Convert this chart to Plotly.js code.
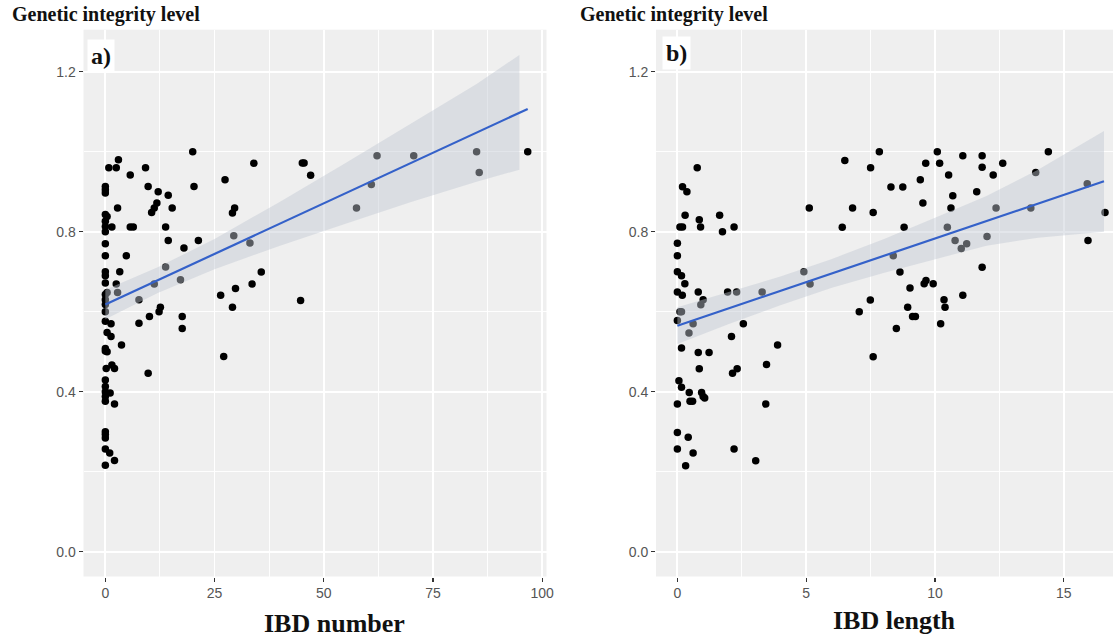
<!DOCTYPE html>
<html>
<head>
<meta charset="utf-8">
<script src="https://cdn.plot.ly/plotly-3.0.1.min.js"></script>
<style>
  html, body { margin: 0; padding: 0; background: #ffffff; }
  #chart { width: 1113px; height: 638px; }
</style>
</head>
<body>
<div id="chart"></div>
<script>
// ---------- Panel a) : IBD number vs genetic integrity ----------
const ibdNumber = [20.0,34.0,3.0,0.8,2.5,9.2,5.7,27.4,0,0,
  0,9.8,20.3,12.1,14.4,11.8,11.2,10.6,15.3,2.8,
  29.6,29.1,0,0.4,0,0,0,1.5,5.7,6.4,
  13.8,0,14.4,21.3,29.4,33.1,18.0,0,4.8,35.7,
  0,3.3,13.8,17.2,0,0,2.5,2.8,0.4,0,
  0,0,0,11.2,7.7,33.6,29.8,26.4,29.1,12.6,
  12.3,10.1,7.7,17.6,17.6,27.1,0,1.3,0.4,1.3,
  3.7,0,0,0.4,0.2,1.5,2.1,9.8,0,0,
  0,1.1,0,0,2.1,0,0,0,0,1.0,
  2.1,0,45.1,45.5,47.0,44.7,57.5,60.9,62.2,70.6,
  85.0,85.6,96.7];
const integrityA = [1.0,0.971,0.98,0.96,0.96,0.96,0.942,0.93,0.913,0.905,
  0.897,0.913,0.913,0.90,0.891,0.872,0.859,0.848,0.859,0.859,
  0.859,0.847,0.843,0.838,0.826,0.813,0.80,0.812,0.812,0.812,
  0.812,0.77,0.778,0.778,0.79,0.772,0.759,0.74,0.74,0.699,
  0.70,0.70,0.712,0.68,0.69,0.672,0.669,0.648,0.648,0.643,
  0.63,0.618,0.60,0.669,0.63,0.669,0.658,0.641,0.611,0.611,
  0.60,0.588,0.571,0.588,0.558,0.488,0.576,0.57,0.548,0.538,
  0.517,0.508,0.502,0.50,0.458,0.467,0.458,0.446,0.429,0.413,
  0.40,0.397,0.388,0.376,0.369,0.30,0.293,0.284,0.257,0.247,
  0.228,0.216,0.972,0.972,0.941,0.628,0.859,0.918,0.99,0.99,
  1.0,0.948,1.0];
// smooth (lm)
const fitXA = [0, 96.7];
const fitYA = [0.618, 1.107];
const bandXA = [0, 12, 25, 40, 55, 70, 85, 94.8];
const bandLoA = [0.581, 0.647, 0.706, 0.765, 0.820, 0.874, 0.925, 0.955];
const bandHiA = [0.655, 0.711, 0.782, 0.875, 0.972, 1.070, 1.169, 1.242];

// ---------- Panel b) : IBD length vs genetic integrity ----------
const ibdLength = [0.77,0.2,0.37,0.3,0.85,0.9,1.64,1.75,2.2,0.1,
  0.2,0,0,0,0.16,4.91,5.12,6.5,7.84,7.5,
  6.8,7.6,6.4,0.29,0,0.19,0.81,0.91,1.0,1.95,
  2.3,3.29,5.15,0.1,0.16,0,0.45,0.61,2.56,2.1,
  0.16,0.81,1.23,3.89,0.85,3.46,2.14,2.32,0.06,0.16,
  0.46,0.94,1.0,1.06,0.49,0.59,0,3.43,7.06,7.49,
  7.6,0,0.42,0,0.61,2.2,0.32,3.04,
  8.29,8.75,10.09,9.64,10.18,9.43,10.53,11.08,11.83,11.83,
  12.63,12.26,14.4,11.62,10.69,9.53,10.62,12.37,13.91,13.72,
  15.91,16.6,15.94,8.8,10.48,10.78,11.23,11.02,12.02,8.38,
  8.64,11.83,9.03,9.58,9.65,9.93,11.08,8.94,10.35,10.39,
  9.13,9.24,8.5,10.22];
const integrityB = [0.96,0.9125,0.90,0.841,0.83,0.812,0.841,0.80,0.812,0.812,
  0.812,0.771,0.74,0.70,0.69,0.70,0.859,0.978,1.0,0.96,
  0.859,0.848,0.811,0.67,0.649,0.641,0.649,0.6175,0.63,0.649,
  0.649,0.649,0.669,0.60,0.60,0.578,0.547,0.57,0.57,0.538,
  0.509,0.498,0.498,0.517,0.4575,0.468,0.446,0.4575,0.4275,0.411,
  0.398,0.398,0.388,0.384,0.376,0.376,0.369,0.369,0.60,0.629,
  0.4875,0.298,0.286,0.257,0.247,0.257,0.215,0.2275,
  0.912,0.912,1.0,0.971,0.971,0.93,0.942,0.99,0.99,0.961,
  0.971,0.942,1.0,0.90,0.89,0.872,0.859,0.859,0.948,0.859,
  0.92,0.848,0.778,0.811,0.811,0.778,0.77,0.758,0.788,0.74,
  0.699,0.711,0.659,0.67,0.678,0.67,0.641,0.611,0.63,0.611,
  0.588,0.588,0.558,0.57];
const fitXB = [0, 16.56];
const fitYB = [0.565, 0.926];
const bandXB = [0, 2, 4, 6, 8, 10, 12, 14, 16.56];
const bandLoB = [0.519, 0.569, 0.616, 0.660, 0.697, 0.731, 0.765, 0.785, 0.800];
const bandHiB = [0.611, 0.649, 0.688, 0.732, 0.781, 0.835, 0.889, 0.955, 1.052];

// ---------- axis ticks ----------
const xTicksA = [0, 25, 50, 75, 100];
const xTicksB = [0, 5, 10, 15];
const yTicks = [0, 0.4, 0.8, 1.2];
const yTickText = ['0.0', '0.4', '0.8', '1.2'];

// ---------- styling ----------
const W = 1113, H = 638;
const px = v => v / W;
const py = v => 1 - v / H;
const pointColor = '#000000';
const bandColor = 'rgba(192,200,210,0.45)';
const lineColor = '#3461C9';
const panelBg = '#EFEFEF';
const tickFont = {family: 'Liberation Sans, Arial, sans-serif', size: 14, color: '#555555'};
const serif = 'Liberation Serif, Times New Roman, serif';

function band(xs, lo, hi, xa, ya) {
  return {
    x: xs.concat(xs.slice().reverse()),
    y: hi.concat(lo.slice().reverse()),
    xaxis: xa, yaxis: ya,
    type: 'scatter', mode: 'lines', fill: 'toself',
    fillcolor: bandColor, line: {width: 0, color: 'rgba(0,0,0,0)'},
    hoverinfo: 'skip', showlegend: false
  };
}
function pts(xs, ys, xa, ya) {
  return {x: xs, y: ys, xaxis: xa, yaxis: ya, type: 'scatter', mode: 'markers',
    marker: {color: pointColor, size: 7.5}, showlegend: false};
}
function fit(xs, ys, xa, ya) {
  return {x: xs, y: ys, xaxis: xa, yaxis: ya, type: 'scatter', mode: 'lines',
    line: {color: lineColor, width: 2.2}, showlegend: false};
}

const traces = [
  pts(ibdNumber, integrityA, 'x', 'y'),
  band(bandXA, bandLoA, bandHiA, 'x', 'y'),
  fit(fitXA, fitYA, 'x', 'y'),
  pts(ibdLength, integrityB, 'x2', 'y2'),
  band(bandXB, bandLoB, bandHiB, 'x2', 'y2'),
  fit(fitXB, fitYB, 'x2', 'y2')
];

const axisCommon = {
  showgrid: true, gridcolor: '#FFFFFF', gridwidth: 1.8,
  zeroline: false, showline: false,
  ticks: 'outside', ticklen: 4, tickwidth: 1.2, tickcolor: '#333333',
  tickfont: tickFont, fixedrange: true
};
const yDomain = [py(576.5), py(29.7)];

const layout = {
  width: W, height: H,
  margin: {l: 0, r: 0, t: 0, b: 0, pad: 0},
  paper_bgcolor: '#FFFFFF',
  plot_bgcolor: panelBg,
  showlegend: false,
  xaxis: Object.assign({}, axisCommon, {
    domain: [px(83.5), px(546.5)], range: [-5, 101], anchor: 'y',
    tickmode: 'array', tickvals: xTicksA,
    minor: {dtick: 12.5, tick0: 0, showgrid: true, gridcolor: '#FFFFFF', gridwidth: 0.9, ticks: ''}
  }),
  yaxis: Object.assign({}, axisCommon, {
    domain: yDomain, range: [-0.062, 1.305], anchor: 'x',
    tickmode: 'array', tickvals: yTicks, ticktext: yTickText,
    minor: {dtick: 0.2, tick0: 0, showgrid: true, gridcolor: '#FFFFFF', gridwidth: 0.9, ticks: ''}
  }),
  xaxis2: Object.assign({}, axisCommon, {
    domain: [px(656), 1], range: [-0.83, 16.91], anchor: 'y2',
    tickmode: 'array', tickvals: xTicksB,
    minor: {dtick: 2.5, tick0: 0, showgrid: true, gridcolor: '#FFFFFF', gridwidth: 0.9, ticks: ''}
  }),
  yaxis2: Object.assign({}, axisCommon, {
    domain: yDomain, range: [-0.062, 1.305], anchor: 'x2',
    tickmode: 'array', tickvals: yTicks, ticktext: yTickText,
    minor: {dtick: 0.2, tick0: 0, showgrid: true, gridcolor: '#FFFFFF', gridwidth: 0.9, ticks: ''}
  }),
  annotations: [
    {text: '<b>Genetic integrity level</b>', xref: 'paper', yref: 'paper',
     x: px(10), y: py(15), xanchor: 'left', yanchor: 'middle', showarrow: false,
     font: {family: serif, size: 20, color: '#111111'}},
    {text: '<b>Genetic integrity level</b>', xref: 'paper', yref: 'paper',
     x: px(578), y: py(15), xanchor: 'left', yanchor: 'middle', showarrow: false,
     font: {family: serif, size: 20, color: '#111111'}},
    {text: '<b>a)</b>', xref: 'paper', yref: 'paper',
     x: px(101), y: py(56), xanchor: 'center', yanchor: 'middle', showarrow: false,
     bgcolor: '#FFFFFF', borderpad: 3,
     font: {family: serif, size: 24, color: '#111111'}},
    {text: '<b>b)</b>', xref: 'paper', yref: 'paper',
     x: px(676), y: py(53), xanchor: 'center', yanchor: 'middle', showarrow: false,
     bgcolor: '#FFFFFF', borderpad: 3,
     font: {family: serif, size: 24, color: '#111111'}},
    {text: '<b>IBD number</b>', xref: 'paper', yref: 'paper',
     x: px(334), y: py(623), xanchor: 'center', yanchor: 'middle', showarrow: false,
     font: {family: serif, size: 26, color: '#111111'}},
    {text: '<b>IBD length</b>', xref: 'paper', yref: 'paper',
     x: px(894), y: py(620), xanchor: 'center', yanchor: 'middle', showarrow: false,
     font: {family: serif, size: 26, color: '#111111'}}
  ]
};

Plotly.newPlot('chart', traces, layout, {displayModeBar: false, staticPlot: true});
</script>
</body>
</html>
